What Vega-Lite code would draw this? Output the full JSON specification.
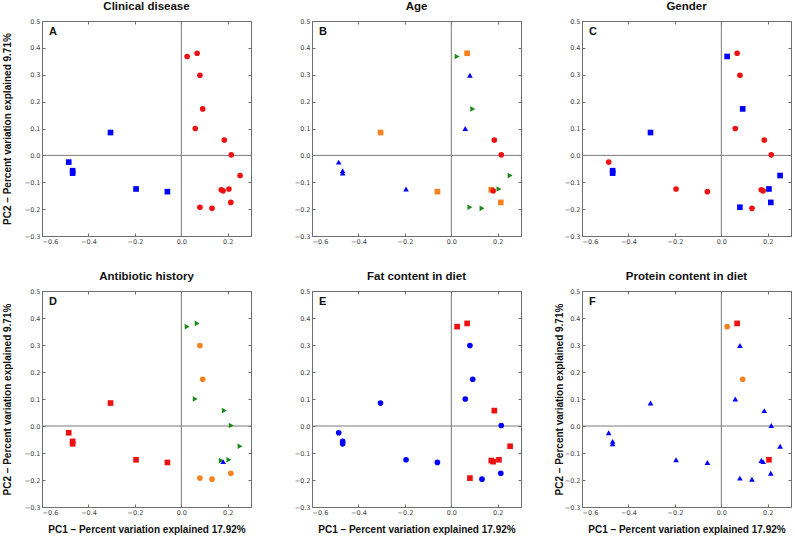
{
  "$schema": "https://vega.github.io/schema/vega-lite/v6.json",
  "padding": {"left": 1, "top": 0, "right": 2, "bottom": 2},
  "background": "white",
  "config": {
    "view": {"stroke": "#6e6e6e", "strokeWidth": 1},
    "axis": {
      "grid": false, "domain": false,
      "labelFont": "DejaVu Sans", "labelFontSize": 6.5, "labelColor": "#444",
      "tickColor": "#6e6e6e", "tickSize": -3, "labelPadding": 5,
      "titleFont": "Liberation Sans", "titleFontSize": 10, "titleFontWeight": "bold", "titleColor": "#111"
    },
    "title": {"font": "Liberation Sans", "fontSize": 11.5, "fontWeight": "bold", "color": "#111", "offset": 6}
  },
  "data": {"values": [
    {"pc1": -0.485, "pc2": -0.025, "disease": "1", "age": "1", "gender": "2", "antibiotic": "1", "fat": "1", "protein": "1"},
    {"pc1": -0.468, "pc2": -0.057, "disease": "1", "age": "1", "gender": "1", "antibiotic": "1", "fat": "1", "protein": "1"},
    {"pc1": -0.468, "pc2": -0.066, "disease": "1", "age": "1", "gender": "1", "antibiotic": "1", "fat": "1", "protein": "1"},
    {"pc1": -0.305, "pc2": 0.085, "disease": "1", "age": "2", "gender": "1", "antibiotic": "1", "fat": "1", "protein": "1"},
    {"pc1": -0.195, "pc2": -0.125, "disease": "1", "age": "1", "gender": "2", "antibiotic": "1", "fat": "1", "protein": "1"},
    {"pc1": -0.060, "pc2": -0.135, "disease": "1", "age": "2", "gender": "2", "antibiotic": "1", "fat": "1", "protein": "1"},
    {"pc1": 0.025, "pc2": 0.368, "disease": "2", "age": "3", "gender": "1", "antibiotic": "3", "fat": "2", "protein": "2"},
    {"pc1": 0.068, "pc2": 0.380, "disease": "2", "age": "2", "gender": "2", "antibiotic": "3", "fat": "2", "protein": "3"},
    {"pc1": 0.080, "pc2": 0.298, "disease": "2", "age": "1", "gender": "2", "antibiotic": "2", "fat": "1", "protein": "1"},
    {"pc1": 0.092, "pc2": 0.173, "disease": "2", "age": "3", "gender": "1", "antibiotic": "2", "fat": "1", "protein": "2"},
    {"pc1": 0.060, "pc2": 0.100, "disease": "2", "age": "1", "gender": "2", "antibiotic": "3", "fat": "1", "protein": "1"},
    {"pc1": 0.185, "pc2": 0.057, "disease": "2", "age": "4", "gender": "2", "antibiotic": "3", "fat": "2", "protein": "1"},
    {"pc1": 0.215, "pc2": 0.002, "disease": "2", "age": "4", "gender": "2", "antibiotic": "3", "fat": "1", "protein": "1"},
    {"pc1": 0.253, "pc2": -0.075, "disease": "2", "age": "3", "gender": "1", "antibiotic": "3", "fat": "2", "protein": "1"},
    {"pc1": 0.172, "pc2": -0.128, "disease": "2", "age": "2", "gender": "2", "antibiotic": "3", "fat": "2", "protein": "1"},
    {"pc1": 0.180, "pc2": -0.132, "disease": "2", "age": "4", "gender": "2", "antibiotic": "4", "fat": "2", "protein": "1"},
    {"pc1": 0.205, "pc2": -0.125, "disease": "2", "age": "3", "gender": "1", "antibiotic": "3", "fat": "2", "protein": "3"},
    {"pc1": 0.213, "pc2": -0.175, "disease": "2", "age": "2", "gender": "1", "antibiotic": "2", "fat": "1", "protein": "1"},
    {"pc1": 0.080, "pc2": -0.193, "disease": "2", "age": "3", "gender": "1", "antibiotic": "2", "fat": "2", "protein": "1"},
    {"pc1": 0.132, "pc2": -0.197, "disease": "2", "age": "3", "gender": "2", "antibiotic": "2", "fat": "1", "protein": "1"}
  ]},
  "concat": [
    {
      "width": 209, "height": 215,
      "title": "Clinical disease",
      "layer": [
        {"data": {"values": [{}]}, "mark": {"type": "rule", "color": "#7a7a7a", "strokeWidth": 1}, "encoding": {"x": {"datum": 0, "type": "quantitative", "scale": {"domain": [-0.6, 0.3], "nice": false, "zero": false}, "axis": {"orient": "top", "labels": false, "values": [-0.6, -0.4, -0.2, 0, 0.2], "title": null}}}},
        {"data": {"values": [{}]}, "mark": {"type": "rule", "color": "#7a7a7a", "strokeWidth": 1}, "encoding": {"y": {"datum": 0, "type": "quantitative", "scale": {"domain": [-0.3, 0.5], "nice": false, "zero": false}, "axis": {"orient": "right", "labels": false, "values": [-0.3, -0.2, -0.1, 0, 0.1, 0.2, 0.3, 0.4, 0.5], "title": null}}}},
        {"mark": {"type": "point", "filled": true, "size": 32, "opacity": 1},
         "encoding": {
           "x": {"field": "pc1", "type": "quantitative", "axis": {"orient": "bottom", "values": [-0.6, -0.4, -0.2, 0, 0.2], "format": ".1f", "title": null}},
           "y": {"field": "pc2", "type": "quantitative", "axis": {"orient": "left", "values": [-0.3, -0.2, -0.1, 0, 0.1, 0.2, 0.3, 0.4, 0.5], "format": ".1f", "title": "PC2 – Percent variation explained 9.71%", "titlePadding": 12}},
           "color": {"field": "disease", "type": "nominal", "scale": {"domain": ["1", "2"], "range": ["#0000ff", "#ee1111"]}, "legend": null},
           "shape": {"field": "disease", "type": "nominal", "scale": {"domain": ["1", "2"], "range": ["square", "circle"]}, "legend": null}
         }},
        {"data": {"values": [{"label": "A"}]}, "mark": {"type": "text", "font": "Liberation Sans", "fontSize": 11, "fontWeight": "bold", "align": "left", "baseline": "middle", "color": "#111"},
         "encoding": {"text": {"field": "label"}, "x": {"datum": -0.57, "type": "quantitative", "axis": null}, "y": {"datum": 0.46, "type": "quantitative", "axis": null}}}
      ],
      "resolve": {"axis": {"x": "independent", "y": "independent"}}
    },
    {
      "width": 209, "height": 215,
      "title": "Age",
      "layer": [
        {"data": {"values": [{}]}, "mark": {"type": "rule", "color": "#7a7a7a", "strokeWidth": 1}, "encoding": {"x": {"datum": 0, "type": "quantitative", "scale": {"domain": [-0.6, 0.3], "nice": false, "zero": false}, "axis": {"orient": "top", "labels": false, "values": [-0.6, -0.4, -0.2, 0, 0.2], "title": null}}}},
        {"data": {"values": [{}]}, "mark": {"type": "rule", "color": "#7a7a7a", "strokeWidth": 1}, "encoding": {"y": {"datum": 0, "type": "quantitative", "scale": {"domain": [-0.3, 0.5], "nice": false, "zero": false}, "axis": {"orient": "right", "labels": false, "values": [-0.3, -0.2, -0.1, 0, 0.1, 0.2, 0.3, 0.4, 0.5], "title": null}}}},
        {"mark": {"type": "point", "filled": true, "size": 32, "opacity": 1},
         "encoding": {
           "x": {"field": "pc1", "type": "quantitative", "axis": {"orient": "bottom", "values": [-0.6, -0.4, -0.2, 0, 0.2], "format": ".1f", "title": null}},
           "y": {"field": "pc2", "type": "quantitative", "axis": {"orient": "left", "values": [-0.3, -0.2, -0.1, 0, 0.1, 0.2, 0.3, 0.4, 0.5], "format": ".1f", "title": null}},
           "color": {"field": "age", "type": "nominal", "scale": {"domain": ["1", "2", "3", "4"], "range": ["#0000ff", "#f5821f", "#1a8a1a", "#ee1111"]}, "legend": null},
           "shape": {"field": "age", "type": "nominal", "scale": {"domain": ["1", "2", "3", "4"], "range": ["triangle-up", "square", "triangle-right", "circle"]}, "legend": null}
         }},
        {"data": {"values": [{"label": "B"}]}, "mark": {"type": "text", "font": "Liberation Sans", "fontSize": 11, "fontWeight": "bold", "align": "left", "baseline": "middle", "color": "#111"},
         "encoding": {"text": {"field": "label"}, "x": {"datum": -0.57, "type": "quantitative", "axis": null}, "y": {"datum": 0.46, "type": "quantitative", "axis": null}}}
      ],
      "resolve": {"axis": {"x": "independent", "y": "independent"}}
    },
    {
      "width": 209, "height": 215,
      "title": "Gender",
      "layer": [
        {"data": {"values": [{}]}, "mark": {"type": "rule", "color": "#7a7a7a", "strokeWidth": 1}, "encoding": {"x": {"datum": 0, "type": "quantitative", "scale": {"domain": [-0.6, 0.3], "nice": false, "zero": false}, "axis": {"orient": "top", "labels": false, "values": [-0.6, -0.4, -0.2, 0, 0.2], "title": null}}}},
        {"data": {"values": [{}]}, "mark": {"type": "rule", "color": "#7a7a7a", "strokeWidth": 1}, "encoding": {"y": {"datum": 0, "type": "quantitative", "scale": {"domain": [-0.3, 0.5], "nice": false, "zero": false}, "axis": {"orient": "right", "labels": false, "values": [-0.3, -0.2, -0.1, 0, 0.1, 0.2, 0.3, 0.4, 0.5], "title": null}}}},
        {"mark": {"type": "point", "filled": true, "size": 32, "opacity": 1},
         "encoding": {
           "x": {"field": "pc1", "type": "quantitative", "axis": {"orient": "bottom", "values": [-0.6, -0.4, -0.2, 0, 0.2], "format": ".1f", "title": null}},
           "y": {"field": "pc2", "type": "quantitative", "axis": {"orient": "left", "values": [-0.3, -0.2, -0.1, 0, 0.1, 0.2, 0.3, 0.4, 0.5], "format": ".1f", "title": null}},
           "color": {"field": "gender", "type": "nominal", "scale": {"domain": ["1", "2"], "range": ["#0000ff", "#ee1111"]}, "legend": null},
           "shape": {"field": "gender", "type": "nominal", "scale": {"domain": ["1", "2"], "range": ["square", "circle"]}, "legend": null}
         }},
        {"data": {"values": [{"label": "C"}]}, "mark": {"type": "text", "font": "Liberation Sans", "fontSize": 11, "fontWeight": "bold", "align": "left", "baseline": "middle", "color": "#111"},
         "encoding": {"text": {"field": "label"}, "x": {"datum": -0.57, "type": "quantitative", "axis": null}, "y": {"datum": 0.46, "type": "quantitative", "axis": null}}}
      ],
      "resolve": {"axis": {"x": "independent", "y": "independent"}}
    },
    {
      "width": 209, "height": 216,
      "title": "Antibiotic history",
      "layer": [
        {"data": {"values": [{}]}, "mark": {"type": "rule", "color": "#7a7a7a", "strokeWidth": 1}, "encoding": {"x": {"datum": 0, "type": "quantitative", "scale": {"domain": [-0.6, 0.3], "nice": false, "zero": false}, "axis": {"orient": "top", "labels": false, "values": [-0.6, -0.4, -0.2, 0, 0.2], "title": null}}}},
        {"data": {"values": [{}]}, "mark": {"type": "rule", "color": "#7a7a7a", "strokeWidth": 1}, "encoding": {"y": {"datum": 0, "type": "quantitative", "scale": {"domain": [-0.3, 0.5], "nice": false, "zero": false}, "axis": {"orient": "right", "labels": false, "values": [-0.3, -0.2, -0.1, 0, 0.1, 0.2, 0.3, 0.4, 0.5], "title": null}}}},
        {"mark": {"type": "point", "filled": true, "size": 32, "opacity": 1},
         "encoding": {
           "x": {"field": "pc1", "type": "quantitative", "axis": {"orient": "bottom", "values": [-0.6, -0.4, -0.2, 0, 0.2], "format": ".1f", "title": "PC1 – Percent variation explained 17.92%", "titlePadding": 9}},
           "y": {"field": "pc2", "type": "quantitative", "axis": {"orient": "left", "values": [-0.3, -0.2, -0.1, 0, 0.1, 0.2, 0.3, 0.4, 0.5], "format": ".1f", "title": "PC2 – Percent variation explained 9.71%", "titlePadding": 12}},
           "color": {"field": "antibiotic", "type": "nominal", "scale": {"domain": ["1", "2", "3", "4"], "range": ["#ee1111", "#f5821f", "#1a8a1a", "#0000ff"]}, "legend": null},
           "shape": {"field": "antibiotic", "type": "nominal", "scale": {"domain": ["1", "2", "3", "4"], "range": ["square", "circle", "triangle-right", "triangle-up"]}, "legend": null}
         }},
        {"data": {"values": [{"label": "D"}]}, "mark": {"type": "text", "font": "Liberation Sans", "fontSize": 11, "fontWeight": "bold", "align": "left", "baseline": "middle", "color": "#111"},
         "encoding": {"text": {"field": "label"}, "x": {"datum": -0.57, "type": "quantitative", "axis": null}, "y": {"datum": 0.46, "type": "quantitative", "axis": null}}}
      ],
      "resolve": {"axis": {"x": "independent", "y": "independent"}}
    },
    {
      "width": 209, "height": 216,
      "title": "Fat content in diet",
      "layer": [
        {"data": {"values": [{}]}, "mark": {"type": "rule", "color": "#7a7a7a", "strokeWidth": 1}, "encoding": {"x": {"datum": 0, "type": "quantitative", "scale": {"domain": [-0.6, 0.3], "nice": false, "zero": false}, "axis": {"orient": "top", "labels": false, "values": [-0.6, -0.4, -0.2, 0, 0.2], "title": null}}}},
        {"data": {"values": [{}]}, "mark": {"type": "rule", "color": "#7a7a7a", "strokeWidth": 1}, "encoding": {"y": {"datum": 0, "type": "quantitative", "scale": {"domain": [-0.3, 0.5], "nice": false, "zero": false}, "axis": {"orient": "right", "labels": false, "values": [-0.3, -0.2, -0.1, 0, 0.1, 0.2, 0.3, 0.4, 0.5], "title": null}}}},
        {"mark": {"type": "point", "filled": true, "size": 32, "opacity": 1},
         "encoding": {
           "x": {"field": "pc1", "type": "quantitative", "axis": {"orient": "bottom", "values": [-0.6, -0.4, -0.2, 0, 0.2], "format": ".1f", "title": "PC1 – Percent variation explained 17.92%", "titlePadding": 9}},
           "y": {"field": "pc2", "type": "quantitative", "axis": {"orient": "left", "values": [-0.3, -0.2, -0.1, 0, 0.1, 0.2, 0.3, 0.4, 0.5], "format": ".1f", "title": null}},
           "color": {"field": "fat", "type": "nominal", "scale": {"domain": ["1", "2"], "range": ["#0000ff", "#ee1111"]}, "legend": null},
           "shape": {"field": "fat", "type": "nominal", "scale": {"domain": ["1", "2"], "range": ["circle", "square"]}, "legend": null}
         }},
        {"data": {"values": [{"label": "E"}]}, "mark": {"type": "text", "font": "Liberation Sans", "fontSize": 11, "fontWeight": "bold", "align": "left", "baseline": "middle", "color": "#111"},
         "encoding": {"text": {"field": "label"}, "x": {"datum": -0.57, "type": "quantitative", "axis": null}, "y": {"datum": 0.46, "type": "quantitative", "axis": null}}}
      ],
      "resolve": {"axis": {"x": "independent", "y": "independent"}}
    },
    {
      "width": 209, "height": 216,
      "title": "Protein content in diet",
      "layer": [
        {"data": {"values": [{}]}, "mark": {"type": "rule", "color": "#7a7a7a", "strokeWidth": 1}, "encoding": {"x": {"datum": 0, "type": "quantitative", "scale": {"domain": [-0.6, 0.3], "nice": false, "zero": false}, "axis": {"orient": "top", "labels": false, "values": [-0.6, -0.4, -0.2, 0, 0.2], "title": null}}}},
        {"data": {"values": [{}]}, "mark": {"type": "rule", "color": "#7a7a7a", "strokeWidth": 1}, "encoding": {"y": {"datum": 0, "type": "quantitative", "scale": {"domain": [-0.3, 0.5], "nice": false, "zero": false}, "axis": {"orient": "right", "labels": false, "values": [-0.3, -0.2, -0.1, 0, 0.1, 0.2, 0.3, 0.4, 0.5], "title": null}}}},
        {"mark": {"type": "point", "filled": true, "size": 32, "opacity": 1},
         "encoding": {
           "x": {"field": "pc1", "type": "quantitative", "axis": {"orient": "bottom", "values": [-0.6, -0.4, -0.2, 0, 0.2], "format": ".1f", "title": "PC1 – Percent variation explained 17.92%", "titlePadding": 9}},
           "y": {"field": "pc2", "type": "quantitative", "axis": {"orient": "left", "values": [-0.3, -0.2, -0.1, 0, 0.1, 0.2, 0.3, 0.4, 0.5], "format": ".1f", "title": "PC2 – Percent variation explained 9.71%", "titlePadding": 0}},
           "color": {"field": "protein", "type": "nominal", "scale": {"domain": ["1", "2", "3"], "range": ["#0000ff", "#f5821f", "#ee1111"]}, "legend": null},
           "shape": {"field": "protein", "type": "nominal", "scale": {"domain": ["1", "2", "3"], "range": ["triangle-up", "circle", "square"]}, "legend": null}
         }},
        {"data": {"values": [{"label": "F"}]}, "mark": {"type": "text", "font": "Liberation Sans", "fontSize": 11, "fontWeight": "bold", "align": "left", "baseline": "middle", "color": "#111"},
         "encoding": {"text": {"field": "label"}, "x": {"datum": -0.57, "type": "quantitative", "axis": null}, "y": {"datum": 0.46, "type": "quantitative", "axis": null}}}
      ],
      "resolve": {"axis": {"x": "independent", "y": "independent"}}
    }
  ],
  "columns": 3,
  "spacing": {"row": 55, "column": 61},
  "bounds": "flush",
  "resolve": {"scale": {"color": "independent", "shape": "independent"}}
}
